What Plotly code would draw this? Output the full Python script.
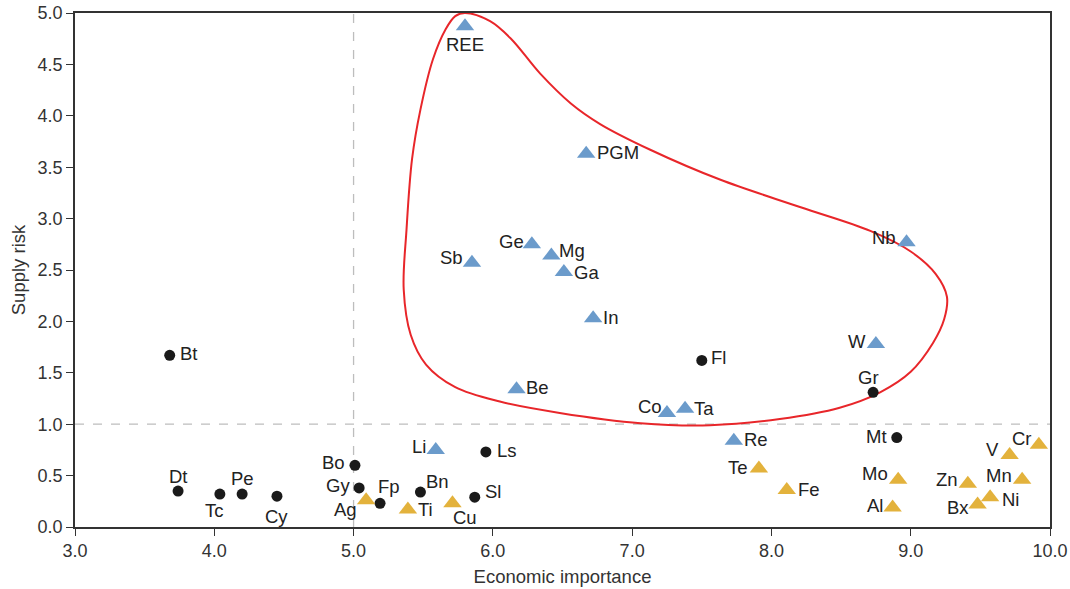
import plotly.graph_objects as go

# --- data ---
blue_names = ["REE", "PGM", "Ge", "Mg", "Ga", "Sb", "In", "Nb", "W", "Be", "Co", "Ta", "Re", "Li"]
blue_x = [5.80, 6.67, 6.28, 6.42, 6.51, 5.85, 6.72, 8.97, 8.75, 6.17, 7.25, 7.38, 7.73, 5.59]
blue_y = [4.87, 3.63, 2.75, 2.64, 2.48, 2.57, 2.03, 2.77, 1.78, 1.34, 1.11, 1.15, 0.84, 0.75]

gold_names = ["Ag", "Ti", "Cu", "Te", "Fe", "Mo", "Al", "Zn", "Bx", "Ni", "Mn", "V", "Cr"]
gold_x = [5.09, 5.39, 5.71, 7.91, 8.11, 8.91, 8.87, 9.41, 9.48, 9.57, 9.80, 9.71, 9.92]
gold_y = [0.26, 0.17, 0.23, 0.57, 0.36, 0.46, 0.19, 0.42, 0.22, 0.29, 0.46, 0.70, 0.80]

black_names = ["Bt", "Fl", "Gr", "Mt", "Ls", "Bo", "Gy", "Fp", "Bn", "Sl", "Dt", "Tc", "Pe", "Cy"]
black_x = [3.68, 7.50, 8.73, 8.90, 5.95, 5.01, 5.04, 5.19, 5.48, 5.87, 3.74, 4.04, 4.20, 4.45]
black_y = [1.67, 1.62, 1.31, 0.87, 0.73, 0.60, 0.38, 0.23, 0.34, 0.29, 0.35, 0.32, 0.32, 0.30]

# outline of the highlighted region (closed curve)
region_x = [5.80, 5.98, 6.13, 6.34, 6.56, 6.77, 7.13, 7.63, 8.21, 8.71, 9.00, 9.18, 9.26, 9.24,
            9.16, 9.00, 8.78, 8.49, 8.06, 7.56, 7.06, 6.48, 6.05, 5.73, 5.52, 5.41, 5.36, 5.38,
            5.42, 5.48, 5.57, 5.66, 5.73, 5.80]
region_y = [5.00, 4.92, 4.75, 4.41, 4.12, 3.92, 3.67, 3.38, 3.11, 2.88, 2.68, 2.46, 2.24, 2.02,
            1.79, 1.51, 1.31, 1.16, 1.05, 0.99, 1.01, 1.11, 1.22, 1.36, 1.58, 1.87, 2.31, 2.89,
            3.58, 4.06, 4.55, 4.84, 4.97, 5.00]

x_ticks = [3.0, 4.0, 5.0, 6.0, 7.0, 8.0, 9.0, 10.0]
y_ticks = [0.0, 0.5, 1.0, 1.5, 2.0, 2.5, 3.0, 3.5, 4.0, 4.5, 5.0]

# label placement (style): xanchor, x pixel shift, y pixel shift (up positive)
label_style = {
    "REE": ("center", 0, -18), "PGM": ("left", 9, 1), "Ge": ("right", -6, 3), "Mg": ("left", 6, 5),
    "Ga": ("left", 8, 0), "Sb": ("right", -7, 5), "In": ("left", 8, 1), "Nb": ("right", -9, 5),
    "W": ("right", -8, 3), "Be": ("left", 7, 2), "Co": ("right", -3, 6), "Ta": ("left", 7, 0),
    "Re": ("left", 8, 1), "Li": ("right", -8, 3),
    "Ag": ("center", -21, -9), "Ti": ("left", 8, 0), "Cu": ("center", 13, -14), "Te": ("right", -9, 1),
    "Fe": ("left", 9, 0), "Mo": ("right", -8, 6), "Al": ("right", -8, 2), "Zn": ("right", -8, 4),
    "Bx": ("right", -7, -3), "Ni": ("left", 10, -2), "Mn": ("right", -8, 4), "V": ("right", -9, 6),
    "Cr": ("right", -5, 6),
    "Bt": ("left", 8, 2), "Fl": ("left", 7, 3), "Gr": ("center", -5, 15), "Mt": ("right", -8, 1),
    "Ls": ("left", 9, 1), "Bo": ("right", -8, 3), "Gy": ("right", -7, 2), "Fp": ("center", 9, 17),
    "Bn": ("center", 17, 11), "Sl": ("left", 8, 6), "Dt": ("center", 0, 15), "Tc": ("center", -5, -16),
    "Pe": ("center", 0, 16), "Cy": ("center", 0, -20),
}

FONT = "Liberation Sans, Arial, sans-serif"
TXT = dict(family=FONT, size=18.5, color="#222222")
AX = dict(family=FONT, size=18, color="#333333")
TITLE = dict(family=FONT, size=18.5, color="#333333")

fig = go.Figure()

# reference dashed lines
fig.add_shape(type="line", x0=5.0, x1=5.0, y0=0, y1=5, xref="x", yref="y",
              line=dict(color="#bdbdbd", width=1.3, dash="dash"), layer="below")
fig.add_shape(type="line", x0=3.0, x1=10.0, y0=1.0, y1=1.0, xref="x", yref="y",
              line=dict(color="#bdbdbd", width=1.3, dash="dash"), layer="below")

fig.add_trace(go.Scatter(x=region_x, y=region_y, mode="lines",
                         line=dict(color="#e8262a", width=2, shape="spline", smoothing=1.0),
                         hoverinfo="skip", showlegend=False))

fig.add_trace(go.Scatter(x=black_x, y=black_y, mode="markers", text=black_names,
                         marker=dict(symbol="circle", size=11, color="#1a1a1a"),
                         showlegend=False))
fig.add_trace(go.Scatter(x=blue_x, y=blue_y, mode="markers", text=blue_names,
                         marker=dict(symbol="triangle-up", size=16, color="#6b9bcb"),
                         showlegend=False))
fig.add_trace(go.Scatter(x=gold_x, y=gold_y, mode="markers", text=gold_names,
                         marker=dict(symbol="triangle-up", size=16, color="#e3b23c"),
                         showlegend=False))

for names, xs, ys in [(black_names, black_x, black_y), (blue_names, blue_x, blue_y),
                      (gold_names, gold_x, gold_y)]:
    for n, xv, yv in zip(names, xs, ys):
        anc, dx, dy = label_style[n]
        fig.add_annotation(x=xv, y=yv, text=n, showarrow=False, xanchor=anc, yanchor="middle",
                           xshift=dx, yshift=dy, font=TXT)

fig.update_xaxes(range=[3, 10], tickvals=x_ticks, ticktext=[f"{v:.1f}" for v in x_ticks],
                 showgrid=False, zeroline=False, showline=True, linecolor="#333333", linewidth=1.5,
                 mirror=True, ticks="outside", ticklen=7, tickcolor="#333333", automargin=False,
                 tickfont=AX, ticklabeloverflow="allow",
                 title=dict(text="Economic importance", font=TITLE, standoff=10))
fig.update_yaxes(range=[0, 5], tickvals=y_ticks, ticktext=[f"{v:.1f}" for v in y_ticks],
                 showgrid=False, zeroline=False, showline=True, linecolor="#333333", linewidth=1.5,
                 mirror=True, ticks="outside", ticklen=7, tickcolor="#333333", automargin=False,
                 tickfont=AX, ticklabeloverflow="allow",
                 title=dict(text="Supply risk", font=TITLE, standoff=7))

fig.update_layout(width=1070, height=589, plot_bgcolor="white", paper_bgcolor="white",
                  margin=dict(l=75, r=20, t=13, b=62), showlegend=False)

# remove the default page-body margin so the figure fills the window exactly
fig.write_html("out.html", config={"displayModeBar": False},
               post_script="document.body.style.margin='0';")
